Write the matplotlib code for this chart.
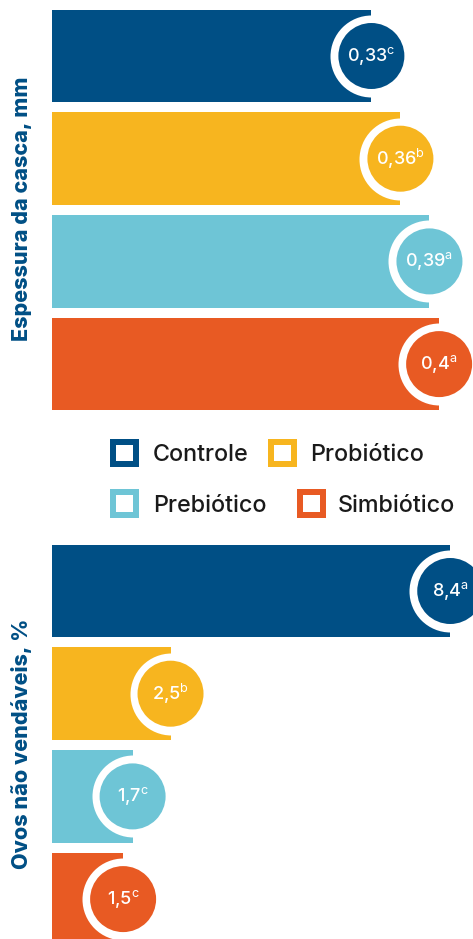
import matplotlib
matplotlib.use("Agg")
import matplotlib.pyplot as plt
from matplotlib.patches import Rectangle

plt.rcParams['font.family'] = ['Inter', 'DejaVu Sans']
plt.rcParams['mathtext.fontset'] = 'custom'
plt.rcParams['mathtext.rm'] = 'Inter'

# Data
categories = ['Controle', 'Probiótico', 'Prebiótico', 'Simbiótico']
colors = ['#004F85', '#F7B51F', '#6EC5D6', '#E85A23']

espessura = [0.33, 0.36, 0.39, 0.40]
espessura_letras = ['c', 'b', 'a', 'a']

ovos = [8.4, 2.5, 1.7, 1.5]
ovos_letras = ['a', 'b', 'c', 'c']

W, H = 473, 939
fig = plt.figure(figsize=(W / 100, H / 100), dpi=100)
fig.patch.set_facecolor('white')

LEFT = 52
PITCH = 102.7


def px_axes(top_center):
    """Axes whose four bar rows sit at fixed pixel rows."""
    top = top_center - PITCH / 2
    bottom = top + 4 * PITCH
    return fig.add_axes([LEFT / W, 1 - bottom / H, (W - LEFT) / W, (bottom - top) / H])


def draw_panel(ax, values, letters, xmax):
    ypos = list(range(len(values)))
    ax.barh(ypos, values, height=0.9, color=colors, linewidth=0)
    # white ring, then the coloured disc at the bar tip
    ax.scatter(values, ypos, s=(82 * 0.72) ** 2, color='white', zorder=3, clip_on=False, linewidths=0)
    ax.scatter(values, ypos, s=(66 * 0.72) ** 2, color=colors, zorder=4, clip_on=False, linewidths=0)
    for v, y, let in zip(values, ypos, letters):
        lab = f"{v:g}".replace('.', ',') + r"$^{\mathrm{" + let + "}}$"
        ax.text(v, y, lab, ha='center', va='center', color='white', fontsize=13,
                fontweight='medium', zorder=5, clip_on=False)
    ax.set_xlim(0, xmax)
    ax.set_ylim(len(values) - 0.5, -0.5)
    ax.axis('off')


ax1 = px_axes(56)
draw_panel(ax1, espessura, espessura_letras, 0.435)

ax2 = px_axes(591)
draw_panel(ax2, ovos, ovos_letras, 8.88)

# Axis titles
fig.text(22 / W, 1 - 209 / H, 'Espessura da casca, mm', rotation=90, ha='center', va='center',
         fontsize=15.5, fontweight='heavy', color=colors[0])
fig.text(22 / W, 1 - 744 / H, 'Ovos não vendáveis, %', rotation=90, ha='center', va='center',
         fontsize=15.5, fontweight='heavy', color=colors[0])

# Legend with outlined squares
legend_items = [
    (categories[0], colors[0], 110, 453, 153),
    (categories[1], colors[1], 268, 453, 310),
    (categories[2], colors[2], 110, 503, 153),
    (categories[3], colors[3], 297, 503, 338),
]
sq = 29
bw = 6
for name, col, x0, yc, tx in legend_items:
    inner = sq - bw
    rect = Rectangle(((x0 + bw / 2) / W, 1 - (yc + inner / 2) / H), inner / W, inner / H,
                     transform=fig.transFigure, facecolor='white', edgecolor=col,
                     linewidth=bw * 0.72, joinstyle='miter')
    fig.add_artist(rect)
    fig.text(tx / W, 1 - yc / H, name, ha='left', va='center_baseline', fontsize=16.8,
             color='#1a1a1a', fontweight='medium')

fig.savefig('out.png', dpi=100, facecolor='white')
